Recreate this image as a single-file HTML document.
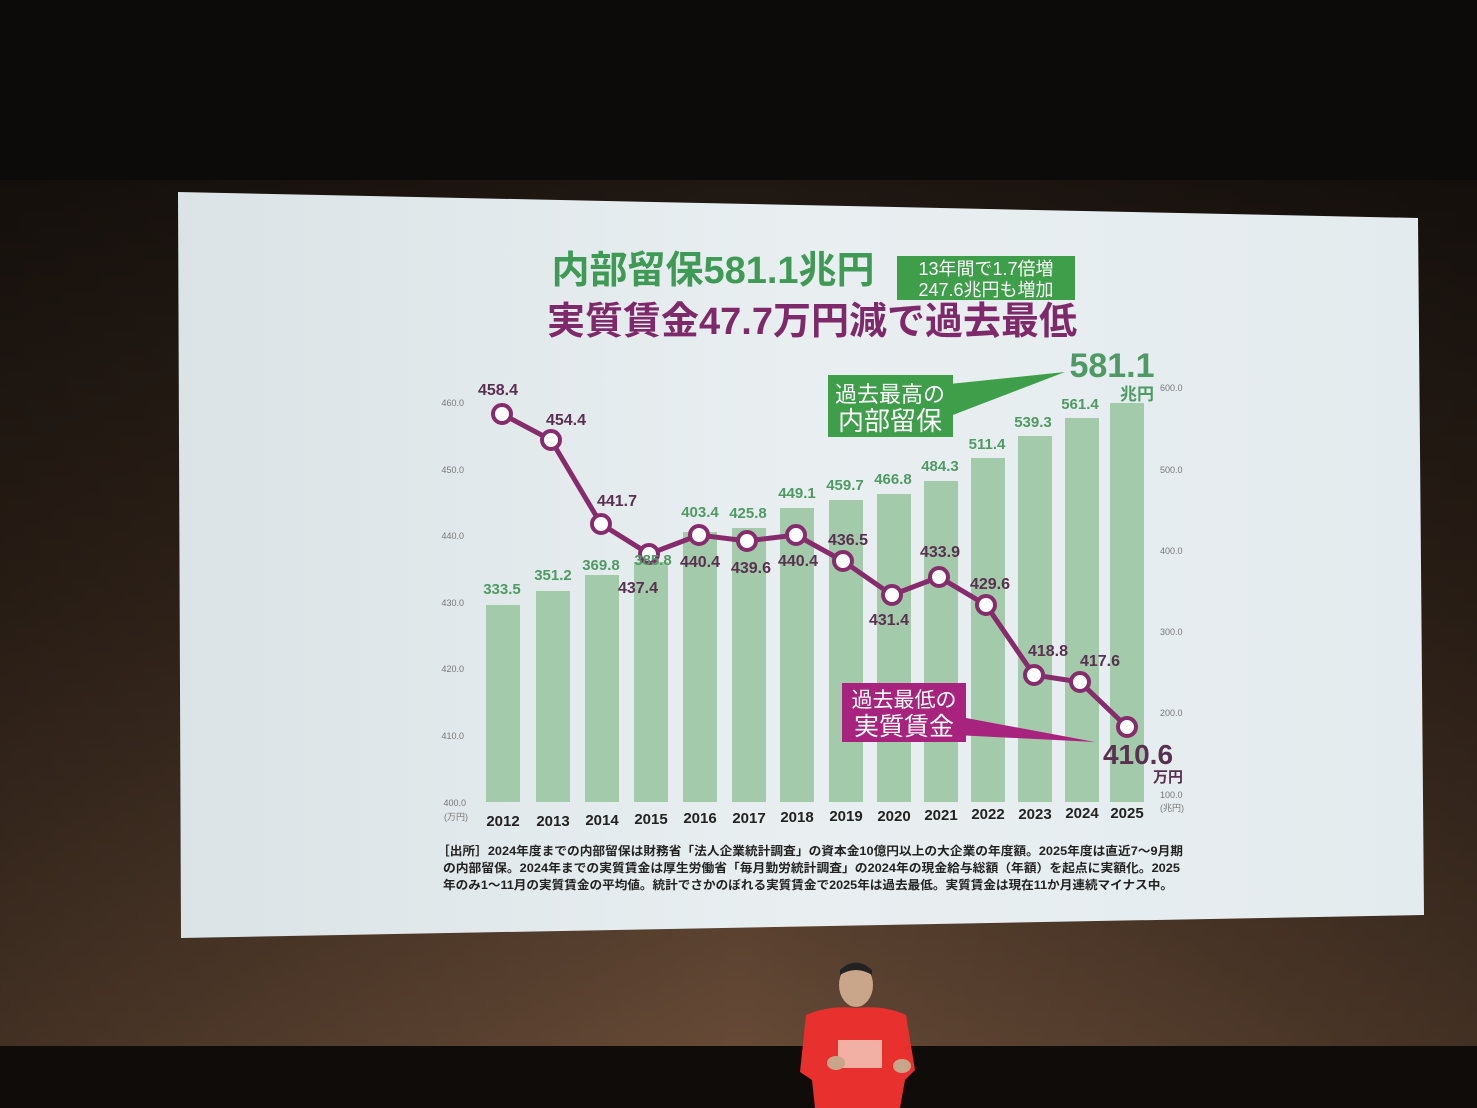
<!DOCTYPE html>
<html><head><meta charset="utf-8"><style>
html,body{margin:0;padding:0;background:#0c0b0a;}
svg{display:block;}
text{font-family:"Liberation Sans","Noto Sans CJK JP",sans-serif;}
</style></head><body>
<svg width="1477" height="1108" viewBox="0 0 1477 1108" xmlns="http://www.w3.org/2000/svg">
<defs>
<linearGradient id="wall" x1="0" y1="0" x2="0" y2="1">
<stop offset="0" stop-color="#1f1712"/><stop offset="0.5" stop-color="#3d2c20"/><stop offset="1" stop-color="#664a36"/>
</linearGradient>
<linearGradient id="wallx" x1="0" y1="0" x2="1" y2="0">
<stop offset="0" stop-color="#000" stop-opacity="0.35"/><stop offset="0.5" stop-color="#000" stop-opacity="0"/><stop offset="1" stop-color="#000" stop-opacity="0.35"/>
</linearGradient>
<linearGradient id="scr" x1="0" y1="0" x2="1" y2="0">
<stop offset="0" stop-color="#dbe3e6"/><stop offset="0.5" stop-color="#e9eff1"/><stop offset="1" stop-color="#e4ebee"/>
</linearGradient>
</defs>
<rect width="1477" height="1108" fill="#0c0b0a"/>
<rect x="0" y="180" width="1477" height="868" fill="url(#wall)"/>
<rect x="0" y="180" width="1477" height="868" fill="url(#wallx)"/>
<rect x="0" y="1046" width="1477" height="62" fill="#0f0c0a"/>
<polygon points="178,192 1418,218 1424,915 181,938" fill="url(#scr)"/>

<text x="713" y="283" font-size="38" font-weight="bold" fill="#3f9a55" text-anchor="middle">内部留保581.1兆円</text>
<rect x="897" y="256" width="178" height="44" fill="#3f9e4a"/>
<text x="986" y="275" font-size="18" fill="#fff" text-anchor="middle">13年間で1.7倍増</text>
<text x="986" y="296" font-size="18" fill="#fff" text-anchor="middle">247.6兆円も増加</text>
<text x="812" y="334" font-size="38" font-weight="bold" fill="#7e2a6a" text-anchor="middle">実質賃金47.7万円減で過去最低</text>

<g font-size="9" fill="#777" text-anchor="end">
<text x="464" y="406">460.0</text><text x="464" y="473">450.0</text><text x="464" y="539">440.0</text>
<text x="464" y="606">430.0</text><text x="464" y="672">420.0</text><text x="464" y="739">410.0</text><text x="466" y="806">400.0</text>
<text x="468" y="820">(万円)</text>
</g>
<g font-size="9" fill="#777">
<text x="1160" y="391">600.0</text><text x="1160" y="473">500.0</text><text x="1160" y="554">400.0</text>
<text x="1160" y="635">300.0</text><text x="1160" y="716">200.0</text><text x="1160" y="798">100.0</text><text x="1160" y="811">(兆円)</text>
</g>

<g fill="#a3cbab">
<rect x="486" y="605" width="34" height="197"/>
<rect x="536" y="591" width="34" height="211"/>
<rect x="585" y="575" width="34" height="227"/>
<rect x="634" y="562" width="34" height="240"/>
<rect x="683" y="532" width="34" height="270"/>
<rect x="732" y="528" width="34" height="274"/>
<rect x="780" y="508" width="34" height="294"/>
<rect x="829" y="500" width="34" height="302"/>
<rect x="877" y="494" width="34" height="308"/>
<rect x="924" y="481" width="34" height="321"/>
<rect x="971" y="458" width="34" height="344"/>
<rect x="1018" y="436" width="34" height="366"/>
<rect x="1065" y="418" width="34" height="384"/>
<rect x="1110" y="403" width="34" height="399"/>
</g>
<g font-size="15" font-weight="bold" fill="#4f9a64" text-anchor="middle">
<text x="502" y="594">333.5</text><text x="553" y="580">351.2</text><text x="601" y="570">369.8</text>
<text x="700" y="517">403.4</text><text x="748" y="518">425.8</text>
<text x="797" y="498">449.1</text><text x="845" y="490">459.7</text><text x="893" y="484">466.8</text>
<text x="940" y="471">484.3</text><text x="987" y="449">511.4</text><text x="1033" y="427">539.3</text>
<text x="1080" y="409">561.4</text>
</g>
<g font-size="15" font-weight="bold" fill="#222" text-anchor="middle">
<text x="503" y="826">2012</text><text x="553" y="826">2013</text><text x="602" y="825">2014</text>
<text x="651" y="824">2015</text><text x="700" y="823">2016</text><text x="749" y="823">2017</text>
<text x="797" y="822">2018</text><text x="846" y="821">2019</text><text x="894" y="821">2020</text>
<text x="941" y="820">2021</text><text x="988" y="819">2022</text><text x="1035" y="819">2023</text>
<text x="1082" y="818">2024</text><text x="1127" y="818">2025</text>
</g>

<polygon points="940,385 1065,372 945,418" fill="#3f9e4a"/>
<rect x="828" y="375" width="125" height="62" fill="#3f9e4a"/>
<text x="890" y="402" font-size="22" fill="#fff" text-anchor="middle">過去最高の</text>
<text x="890" y="430" font-size="26" fill="#fff" text-anchor="middle">内部留保</text>
<text x="1112" y="377" font-size="34" font-weight="bold" fill="#4f9a64" text-anchor="middle">581.1</text>
<text x="1137" y="400" font-size="17" font-weight="bold" fill="#4f9a64" text-anchor="middle">兆円</text>

<polyline points="502,414 551,440 601,524 649,554 699,535 747,541 796,535 843,561 892,595 939,577 986,605 1034,675 1080,682 1127,727" fill="none" stroke="#862c6d" stroke-width="5"/>
<g fill="#fff" stroke="#862c6d" stroke-width="4">
<circle cx="502" cy="414" r="9"/><circle cx="551" cy="440" r="9"/><circle cx="601" cy="524" r="9"/>
<circle cx="649" cy="554" r="9"/><circle cx="699" cy="535" r="9"/><circle cx="747" cy="541" r="9"/>
<circle cx="796" cy="535" r="9"/><circle cx="843" cy="561" r="9"/><circle cx="892" cy="595" r="9"/>
<circle cx="939" cy="577" r="9"/><circle cx="986" cy="605" r="9"/><circle cx="1034" cy="675" r="9"/>
<circle cx="1080" cy="682" r="9"/><circle cx="1127" cy="727" r="9"/>
</g>
<text x="653" y="565" font-size="15" font-weight="bold" fill="#4f9a64" text-anchor="middle">385.8</text>
<g font-size="16" font-weight="bold" fill="#5a3050" text-anchor="middle">
<text x="498" y="395">458.4</text><text x="566" y="425">454.4</text><text x="617" y="506">441.7</text>
<text x="638" y="593">437.4</text><text x="700" y="567">440.4</text><text x="751" y="573">439.6</text>
<text x="798" y="566">440.4</text><text x="848" y="545">436.5</text><text x="889" y="625">431.4</text>
<text x="940" y="557">433.9</text><text x="990" y="589">429.6</text><text x="1048" y="656">418.8</text>
<text x="1100" y="666">417.6</text>
</g>

<polygon points="950,715 1095,742 955,735" fill="#a8237e"/>
<rect x="842" y="683" width="124" height="59" fill="#a8237e"/>
<text x="904" y="707" font-size="21" fill="#fff" text-anchor="middle">過去最低の</text>
<text x="904" y="735" font-size="25" fill="#fff" text-anchor="middle">実質賃金</text>
<text x="1138" y="764" font-size="28" font-weight="bold" fill="#5a3050" text-anchor="middle">410.6</text>
<text x="1168" y="782" font-size="15" font-weight="bold" fill="#5a3050" text-anchor="middle">万円</text>

<g font-size="12" font-weight="bold" fill="#222">
<text x="437" y="855" textLength="746" lengthAdjust="spacingAndGlyphs">［出所］2024年度までの内部留保は財務省「法人企業統計調査」の資本金10億円以上の大企業の年度額。2025年度は直近7～9月期</text>
<text x="443" y="872" textLength="737" lengthAdjust="spacingAndGlyphs">の内部留保。2024年までの実質賃金は厚生労働省「毎月勤労統計調査」の2024年の現金給与総額（年額）を起点に実額化。2025</text>
<text x="443" y="889" textLength="730" lengthAdjust="spacingAndGlyphs">年のみ1～11月の実質賃金の平均値。統計でさかのぼれる実質賃金で2025年は過去最低。実質賃金は現在11か月連続マイナス中。</text>
</g>

<ellipse cx="856" cy="985" rx="17" ry="22" fill="#c9a58a"/>
<path d="M840 970 Q856 955 872 970 L872 975 Q856 965 840 975 Z" fill="#222"/>
<path d="M806 1015 Q830 1005 856 1008 Q884 1005 906 1015 L915 1070 L905 1080 L900 1108 L815 1108 L812 1080 L800 1072 Z" fill="#e8302e"/>
<rect x="838" y="1040" width="44" height="28" fill="#f4d0c0" opacity="0.8"/>
<ellipse cx="836" cy="1063" rx="9" ry="7" fill="#c9a58a"/>
<ellipse cx="902" cy="1066" rx="9" ry="7" fill="#c9a58a"/>
</svg>
</body></html>
